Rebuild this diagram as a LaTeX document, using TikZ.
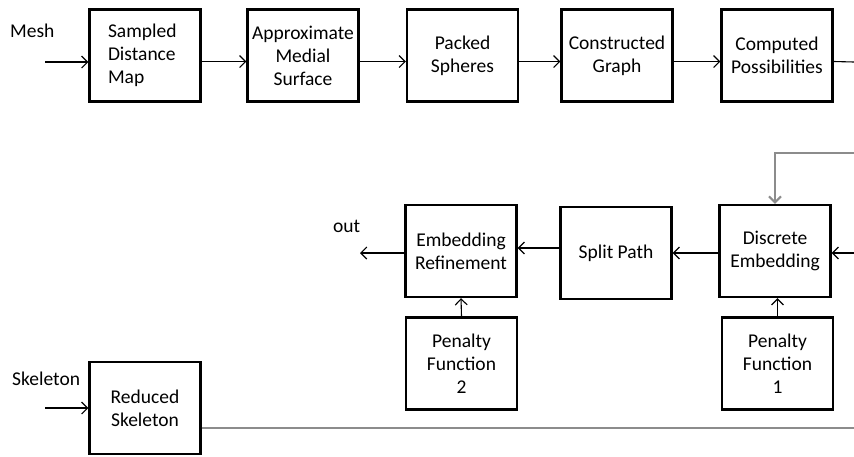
\documentclass[tikz,border=0pt]{standalone}
\usepackage{fontspec}
\setmainfont{Carlito}
\usetikzlibrary{arrows.meta}
\begin{document}
\begin{tikzpicture}[x=1pt,y=-1pt,
  box/.style={draw, line width=2.4pt, minimum width=111pt, minimum height=92pt,
    inner sep=0pt, align=center, font=\fontsize{19.5}{23}\selectfont},
  arr/.style={line width=1.1pt, -{Straight Barb[length=6pt,width=12pt]}},
  gline/.style={draw=gray!90, line width=2pt},
  lbl/.style={anchor=base west, inner sep=0pt, font=\fontsize{19.5}{23}\selectfont}]
\useasboundingbox (0,0) rectangle (854,456);
% row 1
\node[box, text width=74pt, align=flush left] (sdm) at (145,55.5) {Sampled\\Distance\\Map};
\node[box] (ams) at (303,55.5) {Approximate\\Medial\\Surface};
\node[box] (ps)  at (462.5,55.5) {Packed\\Spheres};
\node[box] (cg)  at (617,55.5) {Constructed\\Graph};
\node[box] (cp)  at (777,55.5) {Computed\\Possibilities};
% row 2
\node[box] (er) at (461,251) {Embedding\\Refinement};
\node[box] (sp) at (616,253) {Split Path};
\node[box] (de) at (775,251) {Discrete\\Embedding};
% row 3
\node[box] (pf2) at (461.5,363.5) {Penalty\\Function\\2};
\node[box] (pf1) at (777.5,363.5) {Penalty\\Function\\1};
\node[box] (rs) at (145,408) {Reduced\\Skeleton};
% labels
\node[lbl] (lmesh) at (10,37) {Mesh};
\node[lbl] (lskel) at (12,385) {Skeleton};
\node[lbl] (lout) at (333,232) {out};
% free ends
\coordinate (min) at (45,62);
\coordinate (sin) at (45,408);
\coordinate (cpout) at (854,62);
\coordinate (g1) at (854,153);
\coordinate (rin) at (854,253);
\coordinate (outend) at (360,253);
\coordinate (rsout) at (854,428);
% row 1 arrows
\draw[arr] (min) -- (min -| sdm.west);
\draw[arr] ([yshift=-6pt]sdm.east) -- ([yshift=-6pt]ams.west);
\draw[arr] ([yshift=-6pt]ams.east) -- ([yshift=-6pt]ps.west);
\draw[arr] ([yshift=-6pt]ps.east) -- ([yshift=-6pt]cg.west);
\draw[arr] ([yshift=-6pt]cg.east) -- ([yshift=-6pt]cp.west);
\draw[line width=1.1pt] ([yshift=-6pt]cp.east) -- (cpout);
% feedback
\draw[gline, -{Straight Barb[length=6pt,width=12pt]}] (g1) -| (de.north);
\draw[arr] (rin) -- (rin -| de.east);
\draw[arr] (de.west |- sp.center) -- (sp.east);
\draw[arr] ([yshift=5pt]sp.west) -- ([yshift=5pt]sp.west -| er.east);
\draw[arr] (er.west |- outend) -- (outend);
\draw[arr] (pf2.north) -- (er.south);
\draw[arr] (pf1.north) -- (pf1.north |- de.south);
% skeleton
\draw[arr] (sin) -- (sin -| rs.west);
\draw[gline] (rs.east |- rsout) -- (rsout);
\end{tikzpicture}
\end{document}
